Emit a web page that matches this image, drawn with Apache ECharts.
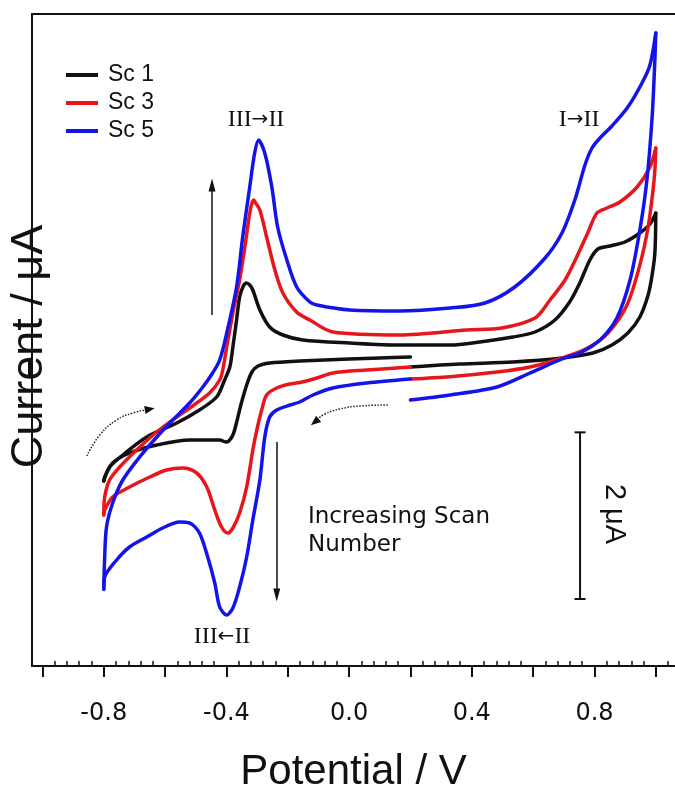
<!DOCTYPE html>
<html>
<head>
<meta charset="utf-8">
<script src="https://cdn.jsdelivr.net/npm/echarts@6/dist/echarts.min.js"></script>
<style>
  html, body { margin: 0; padding: 0; background: #fff; }
  #chart { width: 675px; height: 791px; }
</style>
</head>
<body>
<div id="chart"></div>
<script>
// potential (V) vs current (uA, arbitrary zero)
// each scan: 0.2 V -> -0.8 V, -0.8 V -> 1.0 V, 1.0 V -> 0.2 V
const sc1Cathodic = [
  [0.2, 0.036], [0.1, 0.024], [0.0, 0.012], [-0.161, -0.012], [-0.259, -0.036], [-0.297, -0.072],
  [-0.317, -0.144], [-0.334, -0.3], [-0.353, -0.54], [-0.369, -0.78], [-0.379, -0.9], [-0.392, -0.972],
  [-0.402, -0.984], [-0.422, -0.96], [-0.52, -0.96], [-0.627, -1.02], [-0.716, -1.116], [-0.771, -1.236],
  [-0.797, -1.404], [-0.8, -1.452]
];
const sc1Anodic = [
  [-0.8, -1.452], [-0.781, -1.284], [-0.738, -1.14], [-0.66, -0.924], [-0.562, -0.756], [-0.488, -0.6],
  [-0.432, -0.444], [-0.406, -0.24], [-0.389, -0.084], [-0.379, 0.156], [-0.367, 0.48], [-0.357, 0.756],
  [-0.346, 0.88], [-0.335, 0.924], [-0.324, 0.9], [-0.314, 0.84], [-0.291, 0.6], [-0.259, 0.396],
  [-0.216, 0.3], [-0.151, 0.24], [0.002, 0.204], [0.165, 0.18], [0.329, 0.18], [0.426, 0.216],
  [0.534, 0.276], [0.606, 0.336], [0.671, 0.48], [0.719, 0.696], [0.752, 0.924], [0.785, 1.2],
  [0.811, 1.332], [0.851, 1.368], [0.899, 1.416], [0.948, 1.524], [0.981, 1.632], [1.0, 1.764]
];
const sc1Return = [
  [1.0, 1.764], [0.997, 1.284], [0.988, 1.02], [0.975, 0.78], [0.948, 0.516], [0.909, 0.324],
  [0.857, 0.18], [0.795, 0.084], [0.694, 0.024], [0.534, -0.024], [0.361, -0.048], [0.2, -0.084]
];
const sc3Cathodic = [
  [0.2, -0.084], [0.058, -0.12], [-0.053, -0.156], [-0.105, -0.216], [-0.161, -0.27], [-0.193, -0.288],
  [-0.236, -0.336], [-0.269, -0.42], [-0.285, -0.6], [-0.301, -0.84], [-0.314, -1.08], [-0.334, -1.524],
  [-0.357, -1.836], [-0.379, -2.016], [-0.396, -2.076], [-0.416, -2.004], [-0.438, -1.8], [-0.464, -1.524],
  [-0.497, -1.356], [-0.543, -1.296], [-0.595, -1.32], [-0.65, -1.404], [-0.716, -1.524], [-0.771, -1.644],
  [-0.797, -1.8], [-0.8, -1.86]
];
const sc3Anodic = [
  [-0.8, -1.86], [-0.797, -1.644], [-0.781, -1.44], [-0.748, -1.284], [-0.693, -1.08], [-0.627, -0.864],
  [-0.562, -0.684], [-0.497, -0.516], [-0.455, -0.396], [-0.422, -0.24], [-0.412, -0.12], [-0.399, 0.156],
  [-0.379, 0.564], [-0.357, 0.96], [-0.34, 1.356], [-0.324, 1.764], [-0.317, 1.88], [-0.311, 1.92],
  [-0.304, 1.88], [-0.291, 1.8], [-0.269, 1.476], [-0.242, 1.08], [-0.216, 0.804], [-0.171, 0.576],
  [-0.128, 0.48], [-0.053, 0.336], [0.165, 0.3], [0.384, 0.36], [0.498, 0.384], [0.606, 0.504],
  [0.655, 0.72], [0.704, 0.96], [0.742, 1.236], [0.778, 1.524], [0.808, 1.764], [0.841, 1.824],
  [0.883, 1.896], [0.939, 2.076], [0.981, 2.316], [1.0, 2.544]
];
const sc3Return = [
  [1.0, 2.544], [0.997, 2.28], [0.991, 2.04], [0.975, 1.596], [0.948, 1.14], [0.906, 0.66],
  [0.844, 0.324], [0.778, 0.144], [0.694, 0.024], [0.59, -0.084], [0.482, -0.144], [0.329, -0.2],
  [0.2, -0.228]
];
const sc5Cathodic = [
  [0.2, -0.228], [0.058, -0.276], [-0.053, -0.336], [-0.118, -0.42], [-0.161, -0.504], [-0.193, -0.54],
  [-0.236, -0.6], [-0.259, -0.684], [-0.275, -0.924], [-0.291, -1.44], [-0.314, -1.92], [-0.334, -2.364],
  [-0.357, -2.724], [-0.379, -2.976], [-0.399, -3.06], [-0.422, -2.964], [-0.438, -2.676], [-0.461, -2.364],
  [-0.488, -2.076], [-0.52, -1.956], [-0.553, -1.944], [-0.608, -2.016], [-0.66, -2.124], [-0.716, -2.244],
  [-0.758, -2.4], [-0.797, -2.604], [-0.8, -2.75]
];
const sc5Anodic = [
  [-0.8, -2.75], [-0.797, -2.364], [-0.791, -2.004], [-0.771, -1.716], [-0.738, -1.44], [-0.683, -1.164],
  [-0.627, -0.924], [-0.575, -0.72], [-0.52, -0.516], [-0.477, -0.324], [-0.445, -0.156], [-0.422, 0.0],
  [-0.399, 0.324], [-0.367, 0.876], [-0.347, 1.476], [-0.324, 2.076], [-0.308, 2.484], [-0.295, 2.64],
  [-0.275, 2.484], [-0.252, 2.076], [-0.233, 1.596], [-0.203, 1.2], [-0.171, 0.876], [-0.128, 0.696],
  [-0.105, 0.66], [0.002, 0.6], [0.165, 0.588], [0.329, 0.624], [0.443, 0.684], [0.54, 0.876],
  [0.639, 1.224], [0.694, 1.524], [0.736, 1.92], [0.769, 2.34], [0.792, 2.544], [0.818, 2.664],
  [0.857, 2.808], [0.909, 3.036], [0.955, 3.324], [0.981, 3.54], [1.0, 3.924]
];
const sc5Return = [
  [1.0, 3.924], [0.997, 3.6], [0.988, 2.916], [0.971, 2.16], [0.948, 1.56], [0.916, 0.96],
  [0.873, 0.504], [0.818, 0.24], [0.752, 0.084], [0.694, 0.012], [0.59, -0.156], [0.482, -0.324],
  [0.329, -0.42], [0.2, -0.48]
];

const majorTicks = [-1.0, -0.8, -0.6, -0.4, -0.2, 0, 0.2, 0.4, 0.6, 0.8, 1.0];
const tickLabels = [-0.8, -0.4, 0, 0.4, 0.8];
const minorTicks = [-0.96, -0.92, -0.88, -0.84, -0.76, -0.72, -0.68, -0.64, -0.56, -0.52, -0.48, -0.44,
  -0.36, -0.32, -0.28, -0.24, -0.16, -0.12, -0.08, -0.04, 0.04, 0.08, 0.12, 0.16, 0.24, 0.28, 0.32, 0.36,
  0.44, 0.48, 0.52, 0.56, 0.64, 0.68, 0.72, 0.76, 0.84, 0.88, 0.92, 0.96, 1.04];

// 2 uA scale bar and annotation arrows (data units)
const scaleBar = [[0.753, -2.868], [0.753, -0.868]];
const leftSweep = [[-0.855, -1.152], [-0.813, -0.9], [-0.758, -0.72], [-0.705, -0.636], [-0.663, -0.6]];
const rightSweep = [[0.126, -0.54], [0.035, -0.552], [-0.03, -0.588], [-0.079, -0.648], [-0.102, -0.708]];
const upArrow = [[-0.447, 0.54], [-0.447, 2.1]];
const downArrow = [[-0.236, -0.984], [-0.236, -2.82]];

const xMin = -1.034, xMax = 1.0626;
const yMin = -3.672, yMax = 4.152;

const chart = echarts.init(document.getElementById('chart'));

const sansFont = 'Liberation Sans, Arial, sans-serif';
const serifFont = 'Liberation Serif, Times New Roman, serif';

function cvLine(name, data, color) {
  return {
    name: name,
    type: 'line',
    data: data,
    smooth: 0.3,
    showSymbol: false,
    symbol: 'none',
    silent: true,
    lineStyle: { color: color, width: 3.5, join: 'round', cap: 'round' },
    itemStyle: { color: color }
  };
}

const option = {
  animation: false,
  backgroundColor: '#fff',
  grid: { left: 32, right: 0, top: 14, bottom: 125, outerBoundsMode: 'none' },
  legend: {
    data: ['Sc 1', 'Sc 3', 'Sc 5'],
    orient: 'vertical',
    left: 66,
    top: 61,
    padding: 0,
    itemGap: 0,
    icon: 'rect',
    itemWidth: 32,
    itemHeight: 4,
    selectedMode: false,
    textStyle: { fontFamily: sansFont, fontSize: 23, color: '#111', lineHeight: 28, padding: [0, 0, 0, 5] }
  },
  xAxis: [
    {
      type: 'value', min: xMin, max: xMax, position: 'bottom',
      name: 'Potential / V', nameLocation: 'middle', nameGap: 85,
      nameTextStyle: { fontFamily: sansFont, fontSize: 42, color: '#111' },
      axisLine: { show: true, onZero: false, lineStyle: { color: '#111', width: 2 } },
      axisTick: { show: true, customValues: majorTicks, length: 11, lineStyle: { color: '#111', width: 2 } },
      axisLabel: {
        show: true, customValues: tickLabels, margin: 36,
        formatter: v => v.toFixed(1),
        fontFamily: 'DejaVu Sans, sans-serif', fontSize: 24, color: '#111'
      },
      splitLine: { show: false }
    },
    {
      type: 'value', min: xMin, max: xMax, position: 'bottom',
      axisLine: { show: false, onZero: false },
      axisTick: { show: true, inside: true, customValues: minorTicks, length: 5, lineStyle: { color: '#111', width: 1.5 } },
      axisLabel: { show: false },
      splitLine: { show: false }
    },
    {
      type: 'value', min: xMin, max: xMax, position: 'top',
      axisLine: { show: true, onZero: false, lineStyle: { color: '#111', width: 2 } },
      axisTick: { show: false },
      axisLabel: { show: false },
      splitLine: { show: false }
    }
  ],
  yAxis: {
    type: 'value', min: yMin, max: yMax,
    name: 'Current / μA', nameLocation: 'middle', nameGap: -20,
    nameTextStyle: {
      fontFamily: sansFont, fontSize: 45, color: '#111',
      backgroundColor: '#fff', padding: [0, 20, 0, 7]
    },
    axisLine: { show: true, onZero: false, lineStyle: { color: '#111', width: 2 } },
    axisTick: { show: false },
    axisLabel: { show: false },
    splitLine: { show: false }
  },
  series: [
    cvLine('Sc 1', sc1Cathodic, '#111111'),
    cvLine('Sc 1', sc1Anodic, '#111111'),
    cvLine('Sc 1', sc1Return, '#111111'),
    cvLine('Sc 3', sc3Cathodic, '#e8161b'),
    cvLine('Sc 3', sc3Anodic, '#e8161b'),
    cvLine('Sc 3', sc3Return, '#e8161b'),
    cvLine('Sc 5', sc5Cathodic, '#1414ea'),
    cvLine('Sc 5', sc5Anodic, '#1414ea'),
    cvLine('Sc 5', sc5Return, '#1414ea'),
    {
      type: 'line', data: scaleBar, silent: true,
      symbol: 'rect', symbolSize: [11, 2], showSymbol: true,
      lineStyle: { color: '#111', width: 2 }, itemStyle: { color: '#111' }
    },
    {
      type: 'line', data: leftSweep, smooth: true, silent: true, symbol: 'none',
      lineStyle: { color: '#222', width: 1.5, type: 'dotted' },
      markPoint: {
        silent: true, label: { show: false },
        data: [{ coord: [-0.65, -0.59], symbol: 'triangle', symbolSize: [8, 10], symbolRotate: -80, itemStyle: { color: '#111' } }]
      }
    },
    {
      type: 'line', data: rightSweep, smooth: true, silent: true, symbol: 'none',
      lineStyle: { color: '#222', width: 1.5, type: 'dotted' },
      markPoint: {
        silent: true, label: { show: false },
        data: [{ coord: [-0.112, -0.744], symbol: 'triangle', symbolSize: [8, 10], symbolRotate: 129, itemStyle: { color: '#111' } }]
      }
    },
    {
      type: 'line', data: [], silent: true,
      markLine: {
        silent: true,
        symbol: ['none', 'triangle'],
        symbolSize: [7, 13],
        label: { show: false },
        lineStyle: { color: '#111', width: 1.5, type: 'solid' },
        data: [
          [{ coord: upArrow[0] }, { coord: upArrow[1] }],
          [{ coord: downArrow[0] }, { coord: downArrow[1] }]
        ]
      }
    }
  ],
  graphic: [
    { type: 'text', x: 256, y: 120, style: { text: 'III{a|→}II', rich: { a: { font: '20px DejaVu Sans', fill: '#111' } }, font: '24px ' + serifFont, fill: '#111', textAlign: 'center', textVerticalAlign: 'middle' } },
    { type: 'text', x: 579, y: 120, style: { text: 'I{a|→}II', rich: { a: { font: '20px DejaVu Sans', fill: '#111' } }, font: '24px ' + serifFont, fill: '#111', textAlign: 'center', textVerticalAlign: 'middle' } },
    { type: 'text', x: 222, y: 637, style: { text: 'III{a|←}II', rich: { a: { font: '20px DejaVu Sans', fill: '#111' } }, font: '24px ' + serifFont, fill: '#111', textAlign: 'center', textVerticalAlign: 'middle' } },
    { type: 'text', x: 308, y: 531, style: { text: 'Increasing Scan\nNumber', font: '23px DejaVu Sans, sans-serif', lineHeight: 28, fill: '#111', textAlign: 'left', textVerticalAlign: 'middle' } },
    { type: 'text', x: 614, y: 514, rotation: -Math.PI / 2, style: { text: '2 μA', font: '29px ' + sansFont, fill: '#111', textAlign: 'center', textVerticalAlign: 'middle' } }
  ]
};

chart.setOption(option);
</script>
</body>
</html>
